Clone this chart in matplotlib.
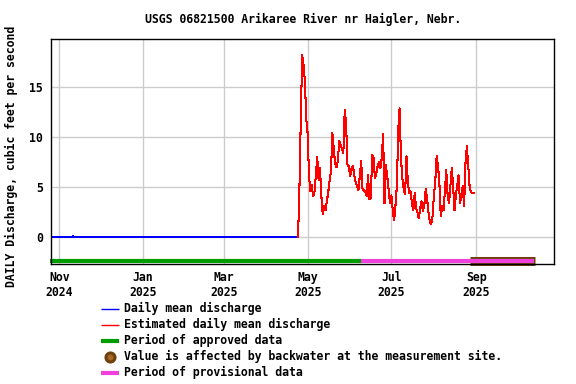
import matplotlib
matplotlib.use("Agg")
import matplotlib.pyplot as plt
from matplotlib.lines import Line2D
import pandas as pd

# station / labels
TITLE = "USGS 06821500 Arikaree River nr Haigler, Nebr."
YLABEL = "DAILY Discharge, cubic feet per second"

# approved daily mean discharge (blue), all zero apart from a tiny blip
blue_dates = ["2024-10-26", "2024-11-10", "2024-11-11", "2024-11-12", "2025-04-24"]
blue_vals = [0.0, 0.0, 0.1, 0.0, 0.0]

# estimated daily mean discharge (red), starts where blue ends
red_start = "2025-04-24"
red_vals = [0.0,
            4.8, 11.8, 18.2, 17.2, 15.6, 11.8, 10.4, 6.1, 4.6, 5.2,
            4.1, 4.6, 6.2, 8.0, 5.7, 6.9, 4.1, 2.3, 3.1, 2.7,
            3.6, 4.5, 5.7, 6.6, 10.4, 8.9, 7.4, 7.0, 7.6, 9.6,
            9.2, 8.9, 8.4, 12.7, 11.4, 7.3, 7.1, 6.1, 6.9, 7.1,
            6.2, 5.5, 5.1, 4.7, 6.1, 7.6, 4.8, 4.7, 4.6, 4.1,
            6.2, 3.8, 3.9, 8.2, 8.0, 5.9, 6.4, 7.1, 7.5, 6.9,
            7.9, 10.3, 3.4, 7.2, 6.1, 4.7, 3.4, 4.2, 2.7, 1.7,
            3.2, 5.1, 10.7, 12.9, 7.9, 5.9, 4.8, 4.3, 8.1, 5.5,
            4.4, 4.6, 3.4, 2.7, 4.4, 2.9, 2.5, 1.9, 2.9, 3.6,
            2.6, 3.2, 4.8, 3.9, 2.5, 1.6, 1.3, 2.1, 4.2, 5.6,
            8.1, 7.1, 5.4, 2.1, 3.1, 2.7, 4.6, 6.7, 4.2, 3.4,
            5.1, 6.9, 5.1, 2.7, 4.2, 5.2, 6.2, 3.4, 4.1, 5.1,
            3.1, 7.4, 9.1, 7.2, 5.1, 4.5, 4.4, 4.4]

# data status periods
approved_period = ["2024-10-25", "2025-06-09"]
provisional_period = ["2025-06-09", "2025-10-13"]
backwater_period = ["2025-08-27", "2025-10-14"]

xtick_dates = ["2024-11-01", "2025-01-01", "2025-03-01", "2025-05-01", "2025-07-01", "2025-09-01"]
xtick_labels = ["Nov\n2024", "Jan\n2025", "Mar\n2025", "May\n2025", "Jul\n2025", "Sep\n2025"]
yticks = [0, 5, 10, 15]

FONT = {"family": "DejaVu Sans Mono", "weight": "bold", "size": 8.3}
BROWN = "#6e400c"
PINK = "#f040dc"
GREEN = "#009c00"

fig = plt.figure(figsize=(5.76, 3.84), dpi=100)
ax = fig.add_axes([51 / 576, 1 - 263.5 / 384, 503 / 576, 224.5 / 384])

red_dates = pd.date_range(red_start, periods=len(red_vals), freq="D")
ax.plot(pd.to_datetime(blue_dates), blue_vals, color="#0000ff", lw=0.75,
        antialiased=False, zorder=3)
ax.plot(red_dates, red_vals, color="#ff0000", lw=0.75, antialiased=False, zorder=3)

bar_y = -2.37
ax.plot(pd.to_datetime(backwater_period), [bar_y, bar_y], color=BROWN, lw=6.5,
        solid_capstyle="butt", clip_on=False, zorder=4)
ax.plot(pd.to_datetime(approved_period), [bar_y, bar_y], color=GREEN, lw=3.0,
        solid_capstyle="butt", clip_on=False, zorder=5)
ax.plot(pd.to_datetime(provisional_period), [bar_y, bar_y], color=PINK, lw=3.0,
        solid_capstyle="butt", clip_on=False, zorder=5)

ax.set_xlim(pd.Timestamp("2024-10-26"), pd.Timestamp("2025-10-27 12:00"))
ax.set_ylim(-2.62, 19.83)
ax.set_xticks(pd.to_datetime(xtick_dates))
ax.set_xticklabels(xtick_labels, fontdict=FONT, linespacing=1.15)
ax.set_yticks(yticks)
ax.set_yticklabels([str(v) for v in yticks], fontdict=FONT)
ax.tick_params(axis="y", length=0, pad=6)
ax.tick_params(axis="x", length=0, pad=5.5)
ax.grid(True, color="#cccccc", lw=1.0)
ax.set_axisbelow(True)
for s in ax.spines.values():
    s.set_linewidth(1.0)
    s.set_zorder(6)

fig.text(303 / 576, 1 - 19 / 384, TITLE, ha="center", va="center", fontdict=FONT)
fig.text(11 / 576, 1 - 156 / 384, YLABEL, ha="center", va="center", rotation=90,
         fontdict=FONT)

# legend, drawn by hand below the plot
legend = [
    ("line", "#0000ff", 1.0, "Daily mean discharge"),
    ("line", "#ff0000", 1.0, "Estimated daily mean discharge"),
    ("line", GREEN, 3.0, "Period of approved data"),
    ("dot", BROWN, 0, "Value is affected by backwater at the measurement site."),
    ("line", PINK, 3.0, "Period of provisional data"),
]
W, H = 576, 384
for i, (kind, col, lw, label) in enumerate(legend):
    y = 1 - (308.5 + 16 * i) / H
    if kind == "line":
        fig.add_artist(Line2D([101 / W, 119 / W], [y, y], color=col, lw=lw,
                              solid_capstyle="butt", transform=fig.transFigure))
    else:
        fig.add_artist(Line2D([110 / W], [y], marker="o", markersize=6.5,
                              markerfacecolor="#a5682a", markeredgecolor=col,
                              markeredgewidth=2.2, transform=fig.transFigure))
    fig.text(124 / W, y, label, ha="left", va="center", fontdict=FONT)

fig.savefig("out.png", dpi=100)
